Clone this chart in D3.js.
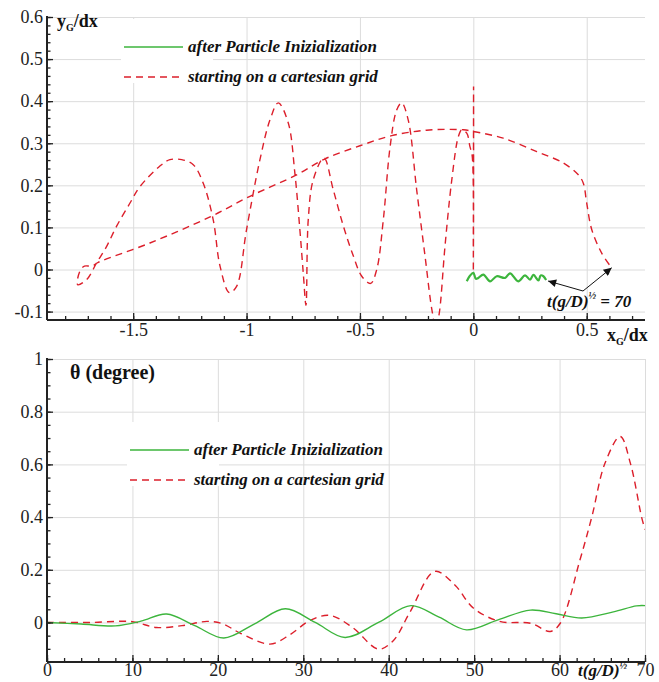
<!DOCTYPE html>
<html>
<head>
<meta charset="utf-8">
<script src="https://cdn.jsdelivr.net/npm/d3@7"></script>
<style>
  body { margin: 0; background: #fff; }
  svg { display: block; }
  svg text { font-family: "Liberation Serif", "Times New Roman", Times, "DejaVu Serif", serif; }
  .tick text { font-size: 18px; fill: #222; }
  .grid line { stroke: #dcdcdc; stroke-width: 1; }
  .grid path { display: none; }
  .lbl { font-weight: bold; fill: #111; }
  .leg { font-weight: bold; font-style: italic; font-size: 17px; fill: #111; }
</style>
</head>
<body>
<script>
// trajectory of the particle centre (x_G/dx, y_G/dx)
const trajCartesian = [
  [0, 0], [0.001, 0.435], [0, 0.05], [-0.005, 0.27], [-0.015, 0.292], [-0.029, 0.324],
  [-0.051, 0.332], [-0.066, 0.316], [-0.095, 0.213], [-0.125, 0.055], [-0.150, -0.103],
  [-0.165, -0.14], [-0.183, -0.095], [-0.213, 0.032], [-0.250, 0.19], [-0.287, 0.355],
  [-0.316, 0.396], [-0.338, 0.379], [-0.367, 0.292], [-0.397, 0.118], [-0.426, 0.0],
  [-0.453, -0.033], [-0.492, -0.016], [-0.529, 0.032], [-0.573, 0.103], [-0.618, 0.19],
  [-0.659, 0.265], [-0.706, 0.213], [-0.728, 0.118], [-0.738, -0.085], [-0.75, -0.008],
  [-0.765, 0.095], [-0.787, 0.229], [-0.816, 0.348], [-0.860, 0.396], [-0.897, 0.355],
  [-0.941, 0.261], [-1.0, 0.095], [-1.044, -0.04], [-1.076, -0.055], [-1.117, 0.008],
  [-1.147, 0.118], [-1.191, 0.205], [-1.235, 0.249], [-1.286, 0.261], [-1.338, 0.261],
  [-1.382, 0.246], [-1.470, 0.197], [-1.514, 0.158], [-1.573, 0.103], [-1.617, 0.055],
  [-1.661, 0.016], [-1.705, -0.024], [-1.745, -0.036], [-1.735, -0.004], [-1.715, 0.008],
  [-1.683, 0.008], [-1.654, 0.017], [-1.426, 0.063], [-1.161, 0.125], [-0.985, 0.174],
  [-0.779, 0.225], [-0.654, 0.263], [-0.5, 0.294], [-0.36, 0.318], [-0.206, 0.331],
  [-0.044, 0.332], [0.0, 0.328], [0.132, 0.312], [0.28, 0.28], [0.397, 0.253],
  [0.463, 0.225], [0.485, 0.205], [0.5, 0.158], [0.522, 0.095], [0.566, 0.039], [0.61, 0.004]
];
const trajParticle = [
  [-0.029, -0.028], [-0.015, -0.015], [0, -0.008], [0.011, -0.022], [0.022, -0.02], [0.044, -0.012],
  [0.074, -0.028], [0.103, -0.016], [0.140, -0.02], [0.162, -0.009], [0.198, -0.028],
  [0.228, -0.014], [0.25, -0.024], [0.265, -0.013], [0.287, -0.026], [0.297, -0.014],
  [0.309, -0.016], [0.321, -0.025]
];

// rotation angle theta (degree) against t(g/D)^1/2
const thetaParticle = [
  [0, 0], [4, -0.006], [8, -0.013], [11, 0.005], [14, 0.032], [17.3, -0.012], [20.7, -0.059],
  [24.3, -0.005], [27.9, 0.052], [31.4, 0.0], [34.9, -0.057], [38.8, 0.0], [42.6, 0.064],
  [45.9, 0.02], [49.1, -0.028], [52.8, 0.01], [56.6, 0.047], [59.6, 0.033], [62.6, 0.017],
  [66.3, 0.04], [69, 0.063], [70, 0.064]
];
const thetaCartesian = [
  [0, 0], [5, 0.0], [10, 0.003], [12.8, -0.019], [15.8, -0.012], [18.7, 0.004], [20.5, -0.004],
  [22.6, -0.04], [26.1, -0.082], [28.5, -0.045], [30.8, 0.008], [33.1, 0.027], [35.8, -0.02],
  [38.8, -0.101], [40.5, -0.07], [42.5, 0.04], [45.4, 0.194], [47.8, 0.14], [49.9, 0.055],
  [53, 0.004], [56.6, -0.003], [58.9, -0.034], [60.1, -0.002], [62.4, 0.239], [63.8, 0.404],
  [65.3, 0.603], [67.1, 0.706], [68.3, 0.603], [69.6, 0.40], [70, 0.353]
];

const topXTicks = [-1.5, -1, -0.5, 0, 0.5];
const topXLabels = ['-1.5', '-1', '-0.5', '0', '0.5'];
const topYTicks = [-0.1, 0, 0.1, 0.2, 0.3, 0.4, 0.5, 0.6];
const topYLabels = ['-0.1', '0', '0.1', '0.2', '0.3', '0.4', '0.5', '0.6'];
const botXTicks = [0, 10, 20, 30, 40, 50, 60, 70];
const botYTicks = [0, 0.2, 0.4, 0.6, 0.8, 1];
const botYLabels = ['0', '0.2', '0.4', '0.6', '0.8', '1'];
const legendNames = ['after Particle Inizialization', 'starting on a cartesian grid'];

const W = 659, H = 682;
const GREEN = '#3db53d', RED = '#dc1f2b';

const svg = d3.select('body').append('svg').attr('width', W).attr('height', H);

const defs = svg.append('defs');
defs.append('marker').attr('id', 'arr')
  .attr('viewBox', '0 0 10 10').attr('refX', 10).attr('refY', 5)
  .attr('markerWidth', 12).attr('markerHeight', 8).attr('markerUnits', 'userSpaceOnUse')
  .attr('orient', 'auto')
  .append('path').attr('d', 'M0,0 L10,5 L0,10 Z').attr('fill', '#111');

function panel(cfg) {
  const x = d3.scaleLinear().domain(cfg.xDomain).range([cfg.left, cfg.right]);
  const y = d3.scaleLinear().domain(cfg.yDomain).range([cfg.bottom, cfg.top]);
  const g = svg.append('g');
  const iw = cfg.right - cfg.left, ih = cfg.bottom - cfg.top;

  // grid
  g.append('g').attr('class', 'grid').attr('transform', `translate(0,${cfg.bottom})`)
    .call(d3.axisBottom(x).tickValues(cfg.xTicks).tickSize(-ih).tickFormat(''));
  g.append('g').attr('class', 'grid').attr('transform', `translate(${cfg.left},0)`)
    .call(d3.axisLeft(y).tickValues(cfg.yTicks).tickSize(-iw).tickFormat(''));

  const clipId = 'clip' + cfg.id;
  defs.append('clipPath').attr('id', clipId).append('rect')
    .attr('x', cfg.left).attr('y', cfg.top).attr('width', iw).attr('height', ih);

  return { x, y, g, clipId };
}

function axes(p, cfg) {
  const { x, y, g } = p;
  const xMinor = g.append('g').attr('transform', `translate(0,${cfg.bottom})`)
    .call(d3.axisBottom(x).tickValues(cfg.xMinor).tickSize(-4).tickFormat(''));
  const yMinor = g.append('g').attr('transform', `translate(${cfg.left},0)`)
    .call(d3.axisLeft(y).tickValues(cfg.yMinor).tickSize(-3.5).tickFormat(''));
  const xAx = g.append('g').attr('transform', `translate(0,${cfg.bottom})`)
    .call(d3.axisBottom(x).tickValues(cfg.xTicks).tickSize(-7).tickPadding(cfg.xPad)
      .tickFormat((d, i) => cfg.xLabels[i]));
  const yAx = g.append('g').attr('transform', `translate(${cfg.left},0)`)
    .call(d3.axisLeft(y).tickValues(cfg.yTicks).tickSize(-6).tickPadding(4)
      .tickFormat((d, i) => cfg.yLabels[i]));
  [xMinor, yMinor, xAx, yAx].forEach(a => {
    a.attr('font-family', null);
    a.selectAll('path').attr('stroke', '#222').attr('stroke-width', 2);
    a.selectAll('line').attr('stroke', '#222').attr('stroke-width', 1.3);
  });
  xMinor.select('path').remove();
  yMinor.select('path').remove();
  xAx.select('path').attr('d', `M${cfg.left},0H${cfg.right}`);
  yAx.select('path').attr('d', `M0,${cfg.bottom}V${cfg.top - 1}`);
}

function legend(cfg) {
  const lg = svg.append('g');
  lg.append('rect').attr('x', cfg.x - 3).attr('y', cfg.y - 28).attr('width', 92).attr('height', 64)
    .attr('fill', '#fff');
  [0, 1].forEach(i => {
    const yy = cfg.y + i * 30;
    lg.append('line').attr('x1', cfg.x).attr('x2', cfg.x + 59).attr('y1', yy).attr('y2', yy)
      .attr('stroke', i === 0 ? GREEN : RED).attr('stroke-width', 1.4)
      .attr('stroke-dasharray', i === 0 ? null : '7,5');
    lg.append('text').attr('class', 'leg').attr('x', cfg.x + 64).attr('y', yy + 5)
      .text(legendNames[i]);
  });
}

// ---------- top panel: trajectory ----------
const topCfg = {
  id: 'top', left: 47, right: 645, top: 17, bottom: 320,
  xDomain: [-1.88, 0.757], yDomain: [-0.12, 0.6],
  xTicks: topXTicks, xLabels: topXLabels, yTicks: topYTicks, yLabels: topYLabels,
  xMinor: d3.range(-18, 8).map(v => v / 10), yMinor: d3.range(-5, 31).map(v => v / 50),
  xPad: 3
};
const pTop = panel(topCfg);
legend({ x: 124, y: 47 });

const lineTop = d3.line().x(d => pTop.x(d[0])).y(d => pTop.y(d[1]))
  .curve(d3.curveCatmullRom.alpha(0.5));
pTop.g.append('path').attr('d', lineTop(trajCartesian)).attr('clip-path', `url(#${pTop.clipId})`)
  .attr('fill', 'none').attr('stroke', RED).attr('stroke-width', 1.4).attr('stroke-dasharray', '7,5');
pTop.g.append('path').attr('d', lineTop(trajParticle))
  .attr('fill', 'none').attr('stroke', GREEN).attr('stroke-width', 2.2);
axes(pTop, topCfg);

// labels
const yl = svg.append('text').attr('class', 'lbl').attr('x', 57).attr('y', 27).attr('font-size', 18);
yl.append('tspan').text('y');
yl.append('tspan').attr('font-size', 10).attr('dy', 4).text('G');
yl.append('tspan').attr('dy', -4).text('/dx');
const xl = svg.append('text').attr('class', 'lbl').attr('x', 607).attr('y', 341).attr('font-size', 18);
xl.append('tspan').text('x');
xl.append('tspan').attr('font-size', 10).attr('dy', 4).text('G');
xl.append('tspan').attr('dy', -4).text('/dx');

// annotation for the end point
const lastG = trajParticle[trajParticle.length - 1];
const lastR = trajCartesian[trajCartesian.length - 1];
const ax0 = 583, ay0 = 291;
svg.append('line').attr('x1', ax0).attr('y1', ay0)
  .attr('x2', pTop.x(lastG[0]) + 2).attr('y2', pTop.y(lastG[1]) + 1)
  .attr('stroke', '#111').attr('stroke-width', 1).attr('marker-end', 'url(#arr)');
svg.append('line').attr('x1', ax0).attr('y1', ay0)
  .attr('x2', pTop.x(lastR[0])).attr('y2', pTop.y(lastR[1]))
  .attr('stroke', '#111').attr('stroke-width', 1).attr('marker-end', 'url(#arr)');
const an = svg.append('text').attr('class', 'leg').attr('x', 547).attr('y', 307).attr('font-size', 18);
an.append('tspan').text('t(g/D)');
an.append('tspan').attr('font-size', 10).attr('dy', -8).text('½');
an.append('tspan').attr('dy', 8).text(' = 70');

// ---------- bottom panel: theta ----------
const botCfg = {
  id: 'bot', left: 47, right: 645, top: 359, bottom: 662,
  xDomain: [0, 70], yDomain: [-0.15, 1],
  xTicks: botXTicks, xLabels: botXTicks.map(String), yTicks: botYTicks, yLabels: botYLabels,
  xMinor: d3.range(0, 36).map(v => v * 2), yMinor: d3.range(-3, 21).map(v => v / 20),
  xPad: 1
};
const pBot = panel(botCfg);
legend({ x: 130, y: 450 });

const lineBot = d3.line().x(d => pBot.x(d[0])).y(d => pBot.y(d[1]))
  .curve(d3.curveCatmullRom.alpha(0.5));
pBot.g.append('path').attr('d', lineBot(thetaCartesian)).attr('clip-path', `url(#${pBot.clipId})`)
  .attr('fill', 'none').attr('stroke', RED).attr('stroke-width', 1.4).attr('stroke-dasharray', '7,5');
pBot.g.append('path').attr('d', lineBot(thetaParticle))
  .attr('fill', 'none').attr('stroke', GREEN).attr('stroke-width', 1.4);
axes(pBot, botCfg);

svg.append('text').attr('class', 'lbl').attr('x', 70).attr('y', 379).attr('font-size', 20)
  .text('θ (degree)');
const tl = svg.append('text').attr('class', 'leg').attr('x', 578).attr('y', 676).attr('font-size', 17);
tl.append('tspan').text('t(g/D)');
tl.append('tspan').attr('font-size', 10).attr('dy', -7).text('½');
</script>
</body>
</html>
